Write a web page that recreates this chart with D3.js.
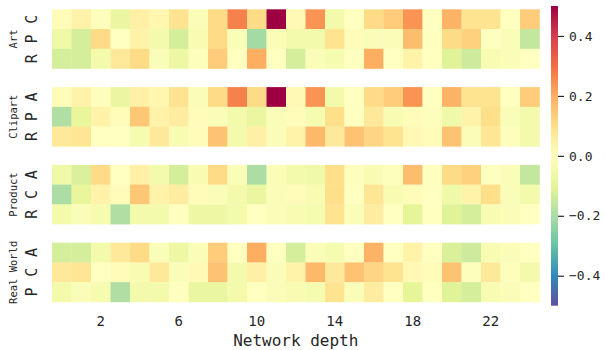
<!DOCTYPE html>
<html>
<head>
<meta charset="utf-8">
<script src="https://cdn.jsdelivr.net/npm/d3@7"></script>
<style>
  body { margin: 0; background: #fff; }
  text { font-family: "DejaVu Sans Mono", monospace; fill: #262626; }
</style>
</head>
<body>
<div id="chart"></div>
<script>
// network depth columns 0..24
const depths = d3.range(0, 25);
const depthTicks = [2, 6, 10, 14, 18, 22];

const domains = ['Art', 'Clipart', 'Product', 'Real World'];
const rowLabels = [['C', 'P', 'R'], ['A', 'P', 'R'], ['A', 'C', 'R'], ['A', 'C', 'P']];

const artC = [0.01, 0.04, -0.01, -0.08, 0.05, 0.03, 0.09, -0.02, 0.11, 0.27, 0.11, 0.5, 0.02, 0.24, -0.05, 0.0, 0.11, 0.14, 0.24, 0.0, 0.19, 0.09, 0.09, 0.0, 0.14];
const artP = [-0.06, -0.13, 0.11, 0.0, 0.04, -0.05, -0.13, -0.03, 0.11, -0.02, -0.21, -0.02, -0.05, -0.05, 0.09, 0.01, -0.02, -0.02, 0.17, 0.0, 0.11, 0.13, 0.0, -0.02, -0.16];
const artR = [-0.13, -0.13, -0.05, 0.07, 0.11, -0.02, -0.07, -0.01, 0.14, 0.0, 0.2, 0.0, -0.13, -0.02, -0.04, 0.0, 0.2, 0.0, 0.04, 0.0, -0.11, -0.14, -0.03, -0.02, 0.0];

const clipA = [0.01, 0.04, -0.01, -0.08, 0.05, 0.03, 0.09, -0.02, 0.11, 0.27, 0.11, 0.5, 0.02, 0.24, -0.05, 0.0, 0.11, 0.14, 0.24, 0.0, 0.19, 0.09, 0.09, 0.0, 0.14];
const clipP = [-0.19, -0.09, 0.04, 0.01, 0.15, 0.04, 0.06, 0.01, -0.02, -0.05, -0.08, -0.02, 0.01, -0.04, 0.1, 0.0, 0.07, -0.03, 0.01, -0.01, -0.06, 0.04, 0.1, -0.02, -0.05];
const clipR = [0.07, 0.08, 0.0, 0.0, -0.04, 0.07, -0.03, 0.01, 0.16, -0.05, 0.05, -0.02, 0.04, 0.18, 0.07, 0.16, 0.12, 0.09, 0.02, 0.01, 0.16, -0.02, 0.08, -0.01, -0.05];

const prodA = [-0.06, -0.12, 0.11, 0.0, 0.05, -0.05, -0.13, -0.03, 0.11, -0.02, -0.2, -0.02, -0.05, -0.06, 0.1, -0.01, -0.03, -0.01, 0.17, 0.0, 0.11, 0.13, 0.0, -0.02, -0.16];
const prodC = [-0.2, -0.09, 0.04, 0.01, 0.15, 0.04, 0.06, 0.01, -0.02, -0.05, -0.08, -0.02, 0.01, -0.03, 0.1, 0.0, 0.08, -0.03, 0.01, 0.0, -0.06, 0.04, 0.1, -0.02, -0.05];
const prodR = [-0.05, -0.02, -0.04, -0.19, -0.05, -0.05, 0.0, -0.07, -0.07, -0.05, 0.0, -0.02, -0.03, -0.04, 0.09, -0.02, 0.06, 0.0, -0.1, 0.0, -0.11, -0.13, -0.03, -0.02, 0.0];

const rwA = [-0.13, -0.13, -0.05, 0.07, 0.11, -0.02, -0.07, -0.02, 0.14, 0.0, 0.2, 0.0, -0.13, -0.02, -0.04, 0.0, 0.19, 0.0, 0.04, 0.0, -0.12, -0.14, -0.03, -0.02, 0.0];
const rwC = [0.07, 0.08, 0.0, 0.01, -0.03, 0.07, -0.02, 0.02, 0.16, -0.05, 0.05, -0.02, 0.04, 0.18, 0.07, 0.16, 0.12, 0.09, 0.02, 0.01, 0.16, -0.01, 0.07, -0.01, -0.05];
const rwP = [-0.05, -0.02, -0.04, -0.19, -0.05, -0.05, 0.0, -0.08, -0.08, -0.05, 0.0, -0.02, -0.03, -0.04, 0.09, -0.02, 0.06, 0.0, -0.1, 0.0, -0.11, -0.13, -0.03, -0.02, 0.0];

const panelValues = [[artC, artP, artR], [clipA, clipP, clipR], [prodA, prodC, prodR], [rwA, rwC, rwP]];

const cbTicks = [-0.4, -0.2, 0.0, 0.2, 0.4];

// Spectral_r, linear between the 11 brewer colours like matplotlib
const spectral = ['#9e0142', '#d53e4f', '#f46d43', '#fdae61', '#fee08b', '#ffffbf', '#e6f598', '#abdda4', '#66c2a5', '#3288bd', '#5e4fa2'].reverse();
const color = d3.scaleLinear()
	.domain(d3.range(11).map(i => -0.5 + i * 0.1))
	.range(spectral)
	.interpolate(d3.interpolateRgb)
	.clamp(true);

const width = 605, height = 350;
const left = 52, right = 539.5;
const panelTop = 9.3, panelH = 59.2, panelStep = 77.8;

const svg = d3.select('#chart').append('svg')
	.attr('width', width)
	.attr('height', height);

const x = d3.scaleBand()
	.domain(depths)
	.range([left, right]);

const y = d3.scaleBand()
	.domain([0, 1, 2])
	.range([0, panelH]);

const panels = svg.selectAll('g.panel')
	.data(domains)
	.enter()
	.append('g')
	.attr('class', 'panel')
	.attr('transform', (d, i) => `translate(0, ${panelTop + i * panelStep})`);

panels.each(function(name, p) {
	const g = d3.select(this);
	const rows = g.selectAll('g.row')
		.data(panelValues[p])
		.enter()
		.append('g')
		.attr('class', 'row');

	rows.selectAll('rect')
		.data((vals, r) => vals.map((v, c) => ({v: v, c: c, r: r})))
		.enter()
		.append('rect')
		.attr('x', d => x(d.c))
		.attr('y', d => y(d.r))
		.attr('width', x.bandwidth() + 0.3)
		.attr('height', y.bandwidth() + 0.3)
		.attr('fill', d => color(d.v));

	// row letters
	g.selectAll('text.rowlab')
		.data(rowLabels[p])
		.enter()
		.append('text')
		.attr('class', 'rowlab')
		.attr('transform', (d, i) => `translate(32, ${y(i) + y.bandwidth() / 2}) rotate(-90)`)
		.attr('text-anchor', 'middle')
		.attr('dy', '0.35em')
		.style('font-size', '15px')
		.text(d => d);

	// domain name
	g.append('text')
		.attr('transform', `translate(13.5, ${panelH / 2}) rotate(-90)`)
		.attr('text-anchor', 'middle')
		.attr('dy', '0.35em')
		.style('font-size', '10.5px')
		.text(name);
});

// x axis
const bottom = panelTop + 3 * panelStep + panelH;
const xAxis = svg.append('g')
	.attr('transform', `translate(0, ${bottom})`)
	.call(d3.axisBottom(x).tickValues(depthTicks).tickSize(0).tickPadding(14));
xAxis.select('.domain').remove();
xAxis.selectAll('text')
	.style('font-size', '14px')
	.style('font-family', '"DejaVu Sans Mono", monospace')
	.attr('fill', '#262626');

svg.append('text')
	.attr('x', (left + right) / 2)
	.attr('y', 346)
	.attr('text-anchor', 'middle')
	.style('font-size', '16px')
	.text('Network depth');

// colorbar
const cbX = 551, cbW = 7, cbTop = 6, cbBottom = 305.7;
const cbScale = d3.scaleLinear().domain([-0.5, 0.5]).range([cbBottom, cbTop]);

const grad = svg.append('defs').append('linearGradient')
	.attr('id', 'cbgrad')
	.attr('x1', 0).attr('y1', 1).attr('x2', 0).attr('y2', 0);
grad.selectAll('stop')
	.data(color.domain())
	.enter()
	.append('stop')
	.attr('offset', d => (d + 0.5))
	.attr('stop-color', d => color(d));

svg.append('rect')
	.attr('x', cbX)
	.attr('y', cbTop)
	.attr('width', cbW)
	.attr('height', cbBottom - cbTop)
	.attr('fill', 'url(#cbgrad)');

const cbAxis = svg.append('g')
	.attr('transform', `translate(${cbX + cbW}, 0)`)
	.call(d3.axisRight(cbScale).tickValues(cbTicks).tickSize(6).tickPadding(5).tickFormat(d3.format('.1f')));
cbAxis.select('.domain').remove();
cbAxis.selectAll('line').attr('stroke', '#262626').attr('stroke-width', 1.2);
cbAxis.selectAll('text')
	.style('font-size', '13px')
	.style('font-family', '"DejaVu Sans Mono", monospace')
	.attr('fill', '#262626');
</script>
</body>
</html>
